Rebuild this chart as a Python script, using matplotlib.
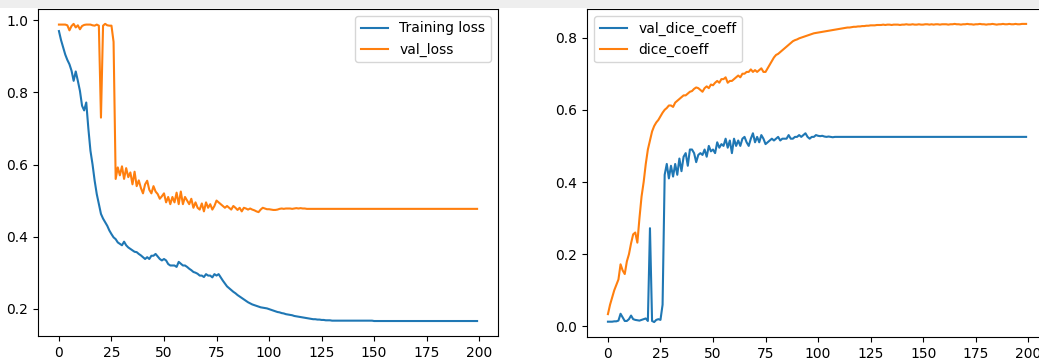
import numpy as np
import matplotlib
matplotlib.use('Agg')
import matplotlib.pyplot as plt
from matplotlib.patches import Rectangle

# ------------- values (epochs 0..199) -------------
training_loss = [
    0.970, 0.945, 0.925, 0.905, 0.890, 0.878, 0.860, 0.832, 0.858, 0.832,
    0.804, 0.763, 0.750, 0.772, 0.700, 0.638, 0.600, 0.555, 0.518, 0.490,
    0.463, 0.450, 0.440, 0.430, 0.417, 0.407, 0.398, 0.393, 0.384, 0.380,
    0.376, 0.386, 0.376, 0.370, 0.366, 0.362, 0.358, 0.357, 0.352, 0.348,
    0.343, 0.338, 0.343, 0.338, 0.347, 0.347, 0.352, 0.345, 0.338, 0.334,
    0.338, 0.334, 0.324, 0.320, 0.320, 0.320, 0.316, 0.330, 0.325, 0.320,
    0.320, 0.316, 0.311, 0.307, 0.302, 0.300, 0.297, 0.292, 0.292, 0.288,
    0.296, 0.292, 0.292, 0.287, 0.296, 0.292, 0.296, 0.287, 0.278, 0.270,
    0.262, 0.257, 0.252, 0.247, 0.243, 0.238, 0.234, 0.230, 0.226, 0.222,
    0.218, 0.215, 0.212, 0.210, 0.208, 0.206, 0.204, 0.203, 0.202, 0.201,
    0.199, 0.197, 0.195, 0.193, 0.191, 0.190, 0.188, 0.187, 0.185, 0.184,
    0.183, 0.182, 0.180, 0.179, 0.178, 0.177, 0.176, 0.175, 0.174, 0.173,
    0.172, 0.171, 0.171, 0.170, 0.170, 0.169, 0.169, 0.168, 0.168, 0.168,
    0.167, 0.167, 0.167, 0.167, 0.167, 0.167, 0.167, 0.167, 0.167, 0.167,
    0.167, 0.167, 0.167, 0.167, 0.167, 0.167, 0.167, 0.167, 0.167, 0.167,
    0.166, 0.166, 0.166, 0.166, 0.166, 0.166, 0.166, 0.166, 0.166, 0.166,
    0.166, 0.166, 0.166, 0.166, 0.166, 0.166, 0.166, 0.166, 0.166, 0.166,
    0.166, 0.166, 0.166, 0.166, 0.166, 0.166, 0.166, 0.166, 0.166, 0.166,
    0.166, 0.166, 0.166, 0.166, 0.166, 0.166, 0.166, 0.166, 0.166, 0.166,
    0.166, 0.166, 0.166, 0.166, 0.166, 0.166, 0.166, 0.166, 0.166, 0.166,
]

val_loss = [
    0.988, 0.988, 0.988, 0.988, 0.986, 0.972, 0.984, 0.990, 0.980, 0.986,
    0.975, 0.984, 0.987, 0.988, 0.988, 0.988, 0.986, 0.985, 0.988, 0.985,
    0.730, 0.985, 0.990, 0.986, 0.985, 0.985, 0.940, 0.560, 0.592, 0.570,
    0.595, 0.560, 0.590, 0.565, 0.578, 0.545, 0.580, 0.540, 0.556, 0.535,
    0.520, 0.545, 0.555, 0.530, 0.520, 0.540, 0.525, 0.518, 0.505, 0.512,
    0.520, 0.495, 0.510, 0.490, 0.510, 0.495, 0.522, 0.490, 0.525, 0.490,
    0.510, 0.500, 0.490, 0.505, 0.480, 0.495, 0.480, 0.475, 0.492, 0.470,
    0.495, 0.480, 0.490, 0.475, 0.485, 0.500, 0.495, 0.490, 0.485, 0.480,
    0.485, 0.480, 0.475, 0.485, 0.480, 0.474, 0.480, 0.470, 0.480, 0.478,
    0.475, 0.478, 0.475, 0.473, 0.470, 0.468, 0.475, 0.480, 0.478, 0.476,
    0.476, 0.475, 0.474, 0.474, 0.475, 0.477, 0.478, 0.477, 0.478, 0.478,
    0.478, 0.477, 0.478, 0.479, 0.478, 0.479, 0.478, 0.478, 0.477, 0.477,
    0.477, 0.477, 0.477, 0.477, 0.477, 0.477, 0.477, 0.477, 0.477, 0.477,
    0.477, 0.477, 0.477, 0.477, 0.477, 0.477, 0.477, 0.477, 0.477, 0.477,
    0.477, 0.477, 0.477, 0.477, 0.477, 0.477, 0.477, 0.477, 0.477, 0.477,
    0.477, 0.477, 0.477, 0.477, 0.477, 0.477, 0.477, 0.477, 0.477, 0.477,
    0.477, 0.477, 0.477, 0.477, 0.477, 0.477, 0.477, 0.477, 0.477, 0.477,
    0.477, 0.477, 0.477, 0.477, 0.477, 0.477, 0.477, 0.477, 0.477, 0.477,
    0.477, 0.477, 0.477, 0.477, 0.477, 0.477, 0.477, 0.477, 0.477, 0.477,
    0.477, 0.477, 0.477, 0.477, 0.477, 0.477, 0.477, 0.477, 0.477, 0.477,
]

val_dice_coeff = [
    0.013, 0.013, 0.013, 0.014, 0.014, 0.016, 0.035, 0.025, 0.015, 0.015,
    0.020, 0.030, 0.020, 0.018, 0.017, 0.016, 0.018, 0.020, 0.022, 0.015,
    0.272, 0.015, 0.012, 0.018, 0.020, 0.018, 0.060, 0.420, 0.450, 0.410,
    0.445, 0.415, 0.450, 0.420, 0.465, 0.430, 0.470, 0.480, 0.445, 0.490,
    0.490, 0.480, 0.455, 0.475, 0.480, 0.475, 0.490, 0.470, 0.500, 0.485,
    0.490, 0.480, 0.510, 0.495, 0.505, 0.500, 0.520, 0.495, 0.515, 0.480,
    0.520, 0.500, 0.515, 0.500, 0.520, 0.525, 0.510, 0.500, 0.520, 0.535,
    0.510, 0.525, 0.510, 0.530, 0.520, 0.505, 0.510, 0.515, 0.520, 0.515,
    0.520, 0.525, 0.515, 0.520, 0.520, 0.520, 0.530, 0.520, 0.520, 0.525,
    0.525, 0.530, 0.525, 0.530, 0.535, 0.525, 0.520, 0.525, 0.525, 0.530,
    0.528, 0.527, 0.528, 0.526, 0.525, 0.526, 0.525, 0.524, 0.525, 0.525,
    0.525, 0.525, 0.525, 0.525, 0.525, 0.525, 0.525, 0.525, 0.525, 0.525,
    0.525, 0.525, 0.525, 0.525, 0.525, 0.525, 0.525, 0.525, 0.525, 0.525,
    0.525, 0.525, 0.525, 0.525, 0.525, 0.525, 0.525, 0.525, 0.525, 0.525,
    0.525, 0.525, 0.525, 0.525, 0.525, 0.525, 0.525, 0.525, 0.525, 0.525,
    0.525, 0.525, 0.525, 0.525, 0.525, 0.525, 0.525, 0.525, 0.525, 0.525,
    0.525, 0.525, 0.525, 0.525, 0.525, 0.525, 0.525, 0.525, 0.525, 0.525,
    0.525, 0.525, 0.525, 0.525, 0.525, 0.525, 0.525, 0.525, 0.525, 0.525,
    0.525, 0.525, 0.525, 0.525, 0.525, 0.525, 0.525, 0.525, 0.525, 0.525,
    0.525, 0.525, 0.525, 0.525, 0.525, 0.525, 0.525, 0.525, 0.525, 0.525,
]

dice_coeff = [
    0.034, 0.060, 0.080, 0.100, 0.115, 0.130, 0.172, 0.155, 0.145, 0.180,
    0.200, 0.230, 0.255, 0.260, 0.232, 0.300, 0.360, 0.400, 0.450, 0.490,
    0.515, 0.540, 0.555, 0.565, 0.572, 0.582, 0.592, 0.600, 0.605, 0.612,
    0.612, 0.608, 0.620, 0.625, 0.630, 0.635, 0.640, 0.640, 0.645, 0.650,
    0.652, 0.658, 0.662, 0.660, 0.655, 0.650, 0.660, 0.665, 0.660, 0.670,
    0.668, 0.675, 0.680, 0.675, 0.685, 0.685, 0.690, 0.675, 0.680, 0.680,
    0.685, 0.690, 0.695, 0.690, 0.700, 0.700, 0.705, 0.705, 0.712, 0.705,
    0.710, 0.705, 0.710, 0.715, 0.705, 0.705, 0.715, 0.725, 0.735, 0.745,
    0.752, 0.755, 0.760, 0.765, 0.770, 0.775, 0.780, 0.785, 0.790, 0.793,
    0.795, 0.798, 0.800, 0.802, 0.804, 0.806, 0.808, 0.810, 0.812, 0.813,
    0.814, 0.815, 0.816, 0.817, 0.818, 0.819, 0.820, 0.821, 0.822, 0.823,
    0.824, 0.825, 0.826, 0.827, 0.828, 0.828, 0.829, 0.830, 0.830, 0.831,
    0.831, 0.832, 0.832, 0.833, 0.833, 0.834, 0.834, 0.834, 0.835, 0.835,
    0.835, 0.836, 0.835, 0.836, 0.836, 0.835, 0.836, 0.836, 0.836, 0.835,
    0.836, 0.836, 0.837, 0.836, 0.836, 0.837, 0.836, 0.836, 0.837, 0.836,
    0.836, 0.837, 0.837, 0.836, 0.837, 0.836, 0.837, 0.837, 0.836, 0.837,
    0.837, 0.837, 0.836, 0.837, 0.837, 0.838, 0.837, 0.837, 0.836, 0.837,
    0.837, 0.838, 0.837, 0.837, 0.836, 0.837, 0.837, 0.838, 0.837, 0.837,
    0.836, 0.837, 0.837, 0.838, 0.837, 0.836, 0.837, 0.837, 0.838, 0.837,
    0.837, 0.838, 0.837, 0.837, 0.838, 0.837, 0.837, 0.838, 0.838, 0.838,
]

epochs = np.arange(len(training_loss))

fig = plt.figure(figsize=(10.39, 3.6), dpi=100)

# screenshot strip along the top edge
fig.patches.append(Rectangle((0, 0.978), 1, 0.022, transform=fig.transFigure,
                             facecolor='#eeeeee', edgecolor='none', zorder=0))

# left panel: loss
ax1 = fig.add_axes([0.0366, 0.067, 0.4427, 0.908])
ax1.plot(epochs, training_loss, label='Training loss')
ax1.plot(epochs, val_loss, label='val_loss')
ax1.legend(loc='upper right')

# right panel: dice coefficient (cut off at the right edge in the reference)
ax2 = fig.add_axes([0.565, 0.064, 0.4427, 0.911])
ax2.plot(epochs, val_dice_coeff, label='val_dice_coeff')
ax2.plot(epochs, dice_coeff, label='dice_coeff')
ax2.legend(loc='upper left')

fig.savefig('out.png', dpi=100)
